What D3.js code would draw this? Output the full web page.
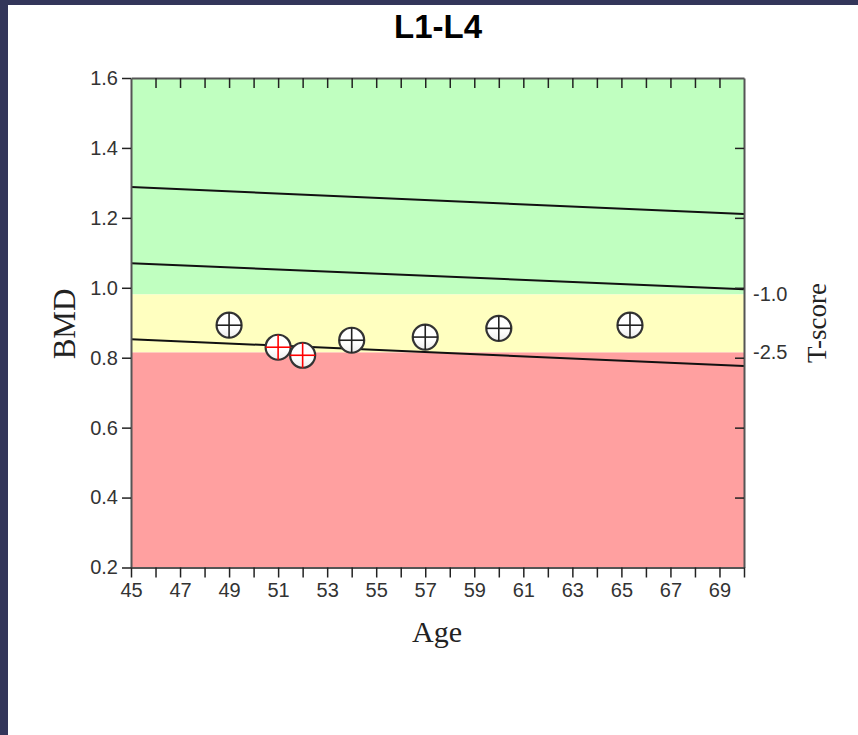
<!DOCTYPE html>
<html>
<head>
<meta charset="utf-8">
<script src="https://cdn.jsdelivr.net/npm/d3@7"></script>
<style>
  html, body { margin: 0; padding: 0; background: #ffffff; }
  body { width: 858px; height: 735px; overflow: hidden; }
  svg { display: block; }
</style>
</head>
<body>
<svg width="858" height="735"></svg>
<script>
// ---- data ----
var ages = [49, 51, 52, 54, 57, 60, 65.35];
var bmd = [0.893, 0.830, 0.807, 0.850, 0.859, 0.884, 0.893];
var flagged = [false, true, true, false, false, false, false];

var refAges = [45, 70];
var refTop = [1.288, 1.211];
var refMid = [1.070, 0.996];
var refLow = [0.853, 0.776];

var bandEdges = [1.6, 0.981, 0.815, 0.2];
var tScoreLabels = ["-1.0", "-2.5"];
var tScoreBmd = [0.981, 0.815];

var yTicks = [0.2, 0.4, 0.6, 0.8, 1.0, 1.2, 1.4, 1.6];
var xTickLabels = [45, 47, 49, 51, 53, 55, 57, 59, 61, 63, 65, 67, 69];
var xMinorTicks = d3.range(45, 71);

// ---- styles ----
var bandColors = ["#c0ffc0", "#ffffc0", "#ffa0a0"];
var frameColor = "#33365a";
var axisColor = "#555555";
var labelColor = "#333333";
var tickFont = "'Liberation Sans', Arial, sans-serif";

var svg = d3.select("svg");

// dark frame on left and top
svg.append("rect").attr("x", 0).attr("y", 0).attr("width", 858).attr("height", 5).attr("fill", frameColor);
svg.append("rect").attr("x", 0).attr("y", 0).attr("width", 8).attr("height", 735).attr("fill", frameColor);

var scaleX = d3.scaleLinear().domain([45, 70]).range([131, 744]);
var scaleY = d3.scaleLinear().domain([0.2, 1.6]).range([567.5, 78]);

var defs = svg.append("defs");
var grad = defs.append("linearGradient").attr("id", "mk").attr("x1", 0).attr("y1", 0).attr("x2", 0).attr("y2", 1);
grad.append("stop").attr("offset", "0%").attr("stop-color", "#ffffff");
grad.append("stop").attr("offset", "60%").attr("stop-color", "#ffffff");
grad.append("stop").attr("offset", "100%").attr("stop-color", "#ececec");

// bands
var bands = d3.range(bandColors.length).map(function(i) {
  return { top: bandEdges[i], bottom: bandEdges[i + 1], color: bandColors[i] };
});
svg.selectAll("rect.band")
   .data(bands)
   .enter()
   .append("rect")
   .attr("class", "band")
   .attr("x", scaleX(45))
   .attr("width", scaleX(70) - scaleX(45))
   .attr("y", function(d) { return scaleY(d.top) })
   .attr("height", function(d) { return scaleY(d.bottom) - scaleY(d.top) })
   .attr("fill", function(d) { return d.color });

// reference lines
var line = d3.line()
   .x(function(d) { return scaleX(d[0]) })
   .y(function(d) { return scaleY(d[1]) });
[refTop, refMid, refLow].forEach(function(vals) {
  svg.append("path")
     .attr("d", line(d3.zip(refAges, vals)))
     .attr("fill", "none")
     .attr("stroke", "#111")
     .attr("stroke-width", 2);
});

// axes
function styleAxis(g) {
  g.select(".domain").attr("stroke", axisColor).attr("stroke-width", 2);
  g.selectAll(".tick line").attr("stroke", "#222").attr("stroke-width", 1.5);
  g.selectAll(".tick text")
   .attr("fill", labelColor)
   .attr("font-family", tickFont)
   .attr("font-size", "20px");
}

svg.append("g")
   .attr("transform", "translate(" + scaleX(45) + ",0)")
   .call(d3.axisLeft(scaleY).tickValues(yTicks).tickFormat(d3.format(".1f")).tickSizeInner(9).tickSizeOuter(0).tickPadding(4))
   .call(styleAxis);

// right edge: inward ticks, no labels
svg.append("g")
   .attr("transform", "translate(" + scaleX(70) + ",0)")
   .call(d3.axisLeft(scaleY).tickValues(yTicks.slice(1, -1)).tickSizeInner(9).tickSizeOuter(0).tickFormat(""))
   .call(styleAxis);

// top edge: inward ticks
svg.append("g")
   .attr("transform", "translate(0," + scaleY(1.6) + ")")
   .call(d3.axisBottom(scaleX).tickValues(xMinorTicks.slice(1, -1)).tickSizeInner(10).tickSizeOuter(0).tickFormat(""))
   .call(styleAxis);

svg.append("g")
   .attr("transform", "translate(0," + scaleY(0.2) + ")")
   .call(d3.axisBottom(scaleX).tickValues(xMinorTicks).tickSizeInner(10).tickSizeOuter(0).tickPadding(5)
        .tickFormat(function(d) { return xTickLabels.indexOf(d) >= 0 ? d : "" }))
   .call(styleAxis);

// T-score labels on right
svg.selectAll("text.tscore")
   .data(tScoreLabels)
   .enter()
   .append("text")
   .attr("class", "tscore")
   .attr("x", scaleX(70) + 9)
   .attr("y", function(d, i) { return scaleY(tScoreBmd[i]) })
   .attr("dy", "0.35em")
   .attr("fill", labelColor)
   .attr("font-family", tickFont)
   .attr("font-size", "20px")
   .text(function(d) { return d });

// points
var pts = svg.selectAll("g.pt")
   .data(d3.range(ages.length))
   .enter()
   .append("g")
   .attr("class", "pt")
   .attr("transform", function(i) { return "translate(" + scaleX(ages[i]) + "," + scaleY(bmd[i]) + ")" });
var r = 12.5;
pts.append("circle")
   .attr("r", r)
   .attr("fill", "url(#mk)")
   .attr("stroke", "#333")
   .attr("stroke-width", 2.2);
pts.append("line")
   .attr("x1", -r).attr("x2", r).attr("y1", 0).attr("y2", 0)
   .attr("stroke", function(i) { return flagged[i] ? "#ff0000" : "#222" })
   .attr("stroke-width", 1.6);
pts.append("line")
   .attr("y1", -r).attr("y2", r).attr("x1", 0).attr("x2", 0)
   .attr("stroke", function(i) { return flagged[i] ? "#ff0000" : "#222" })
   .attr("stroke-width", 1.6);

// titles
svg.append("text")
   .attr("x", 438)
   .attr("y", 38)
   .attr("text-anchor", "middle")
   .attr("font-family", tickFont)
   .attr("font-weight", "bold")
   .attr("font-size", 33)
   .text("L1-L4");

svg.append("text")
   .attr("x", 437)
   .attr("y", 642)
   .attr("text-anchor", "middle")
   .attr("font-family", "'Liberation Serif', 'Times New Roman', serif")
   .attr("font-size", 30)
   .attr("fill", "#222")
   .text("Age");

svg.append("text")
   .attr("transform", "translate(75,324) rotate(-90)")
   .attr("text-anchor", "middle")
   .attr("font-family", "'Liberation Serif', 'Times New Roman', serif")
   .attr("font-size", 31)
   .attr("fill", "#222")
   .text("BMD");

svg.append("text")
   .attr("transform", "translate(826,323) rotate(-90)")
   .attr("text-anchor", "middle")
   .attr("font-family", "'Liberation Serif', 'Times New Roman', serif")
   .attr("font-size", 27)
   .attr("fill", "#222")
   .text("T-score");
</script>
</body>
</html>
